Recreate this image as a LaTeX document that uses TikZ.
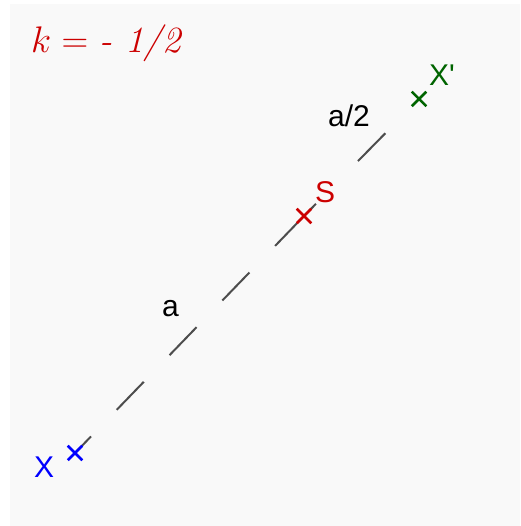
\RequirePackage{fix-cm}
\documentclass[tikz,border=0pt]{standalone}
\usepackage{fontspec}
\setsansfont{Liberation Sans}
\usepackage{tikz}
\usetikzlibrary{shapes.misc, positioning}
\definecolor{bggray}{RGB}{249,249,249}
\definecolor{seggray}{RGB}{77,77,77}
\definecolor{ptblue}{RGB}{0,0,255}
\definecolor{ptred}{RGB}{204,0,0}
\definecolor{ptgreen}{RGB}{0,100,0}

\begin{document}
\begin{tikzpicture}[x=1pt, y=1pt,
  ptcross/.style={cross out, draw, line width=2.5pt, minimum size=12pt, inner sep=0pt},
  ptlabel/.style={font=\fontsize{30}{32}\selectfont\sffamily, inner sep=0pt, anchor=base west},
  seglabel/.style={font=\fontsize{30}{32}\selectfont\sffamily, inner sep=0pt, anchor=base west}]
\useasboundingbox (0,0) rectangle (520,526);
\fill[bggray] (9.5,0) rectangle (520,521.5);

%% TITLE – ratio of the homothety
\node[anchor=base west, inner sep=0pt, text=ptred,
      font=\fontsize{37}{40}\selectfont] (title)
  at (31, 473) {$k=$ \textit{- 1/2}};

%% the three points
\coordinate (X)  at (75, 73);    % X  – original point
\coordinate (S)  at (304, 310);  % S  – centre
\coordinate (Xp) at (419, 427);  % X' – image point

%% dashed segment X -- S -- X'
\draw[seggray, line width=2pt, dash pattern=on 39pt off 37pt, dash phase=16pt]
  (X) -- (S);
\draw[seggray, line width=2pt, dash pattern=on 17pt off 60pt on 39pt off 49pt]
  (S) -- (Xp);

%% markers
\node[ptcross, ptblue]  (mX)  at (X)  {};
\node[ptcross, ptred]   (mS)  at (S)  {};
\node[ptcross, ptgreen] (mXp) at (Xp) {};

%% labels
\node[ptlabel, text=ptblue]  (lX)  at (34, 48)   {X};
\node[ptlabel, text=ptred]   (lS)  at (315, 323) {S};
\node[ptlabel, text=ptgreen] (lXp) at (429, 440) {X\textquotesingle};
\node[seglabel] (la)  at (162, 209) {a};
\node[seglabel] (la2) at (328, 399) {a/2};
\end{tikzpicture}
\end{document}
